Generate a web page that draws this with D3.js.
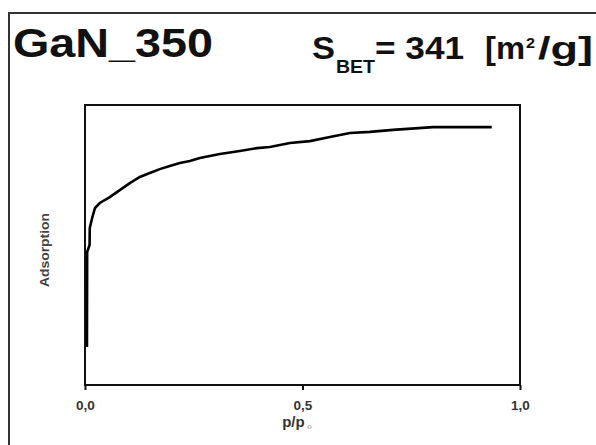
<!DOCTYPE html>
<html>
<head>
<meta charset="utf-8">
<script src="https://cdn.jsdelivr.net/npm/d3@7"></script>
<style>
  body { margin: 0; background: #fff; }
  svg { display: block; font-family: "Liberation Sans", Arial, sans-serif; }
</style>
</head>
<body>
<svg width="596" height="445"></svg>
<script>
// isotherm (adsorption in arbitrary units, 0..100 over the box)
const pressure = [0.0045, 0.0047, 0.005, 0.0105, 0.011, 0.017, 0.023, 0.034, 0.057, 0.08, 0.103, 0.126, 0.149, 0.172, 0.195, 0.218, 0.241, 0.264, 0.31, 0.356, 0.395, 0.425, 0.471, 0.517, 0.563, 0.609, 0.655, 0.708, 0.8, 0.935]
const adsorbed = [13.6, 30, 47.5, 50, 56.1, 60.0, 63.2, 65.0, 67.1, 69.6, 72.1, 74.3, 75.7, 77.1, 78.2, 79.3, 80.0, 81.1, 82.5, 83.6, 84.6, 85.0, 86.4, 87.1, 88.6, 90.0, 90.4, 91.1, 92.1, 92.1]
const xTicks = [0, 0.5, 1.0]

const data = pressure.map((p, i) => ({ p: p, v: adsorbed[i] }))

const svg = d3.select("svg")
const box = { left: 85, top: 105, right: 520, bottom: 385 }

// outer frame (only left and top edges are in the picture)
svg.append("path")
  .attr("d", "M9,445V13H596")
  .attr("fill", "none")
  .attr("stroke", "#333")
  .attr("stroke-width", 2)

const x = d3.scaleLinear().domain([0, 1]).range([box.left, box.right])
const y = d3.scaleLinear().domain([0, 100]).range([box.bottom, box.top])

svg.append("rect")
  .attr("x", box.left)
  .attr("y", box.top)
  .attr("width", box.right - box.left)
  .attr("height", box.bottom - box.top)
  .attr("fill", "none")
  .attr("stroke", "#111")
  .attr("stroke-width", 2)

const xAxis = svg.append("g")
  .attr("transform", `translate(0,${box.bottom})`)
  .call(d3.axisBottom(x)
    .tickValues(xTicks)
    .tickSize(5)
    .tickPadding(10)
    .tickFormat((d) => d3.format(".1f")(d).replace(".", ",")))
xAxis.select(".domain").remove()
xAxis.selectAll("line").attr("stroke", "#111").attr("stroke-width", 2)
xAxis.selectAll("text")
  .attr("font-family", "'Liberation Sans', Arial, sans-serif")
  .attr("font-size", 13.5)
  .attr("font-weight", "bold")
  .attr("fill", "#333")

const line = d3.line()
  .x((d) => x(d.p))
  .y((d) => y(d.v))

svg.append("path")
  .datum(data)
  .attr("fill", "none")
  .attr("stroke", "#000")
  .attr("stroke-width", 2.6)
  .attr("d", line)

// axis titles
const xl = svg.append("text")
  .attr("x", 297)
  .attr("y", 427)
  .attr("text-anchor", "middle")
  .attr("font-size", 15)
  .attr("font-weight", "bold")
  .attr("fill", "#333")
xl.append("tspan").text("p/p")
xl.append("tspan").attr("font-size", 8).attr("dy", 2).attr("fill", "#bbb").text(" o")

svg.append("text")
  .attr("transform", "translate(49,250) rotate(-90)")
  .attr("text-anchor", "middle")
  .attr("font-size", 12)
  .attr("font-weight", "bold")
  .attr("fill", "#444")
  .attr("textLength", 74)
  .attr("lengthAdjust", "spacingAndGlyphs")
  .text("Adsorption")

// headings, each piece stretched to the width it has in the picture
const heading = (tx, ty, size, len, str) =>
  svg.append("text")
    .attr("x", tx)
    .attr("y", ty)
    .attr("font-size", size)
    .attr("font-weight", "bold")
    .attr("fill", "#111")
    .attr("textLength", len)
    .attr("lengthAdjust", "spacingAndGlyphs")
    .text(str)

heading(13, 57, 40, 200, "GaN_350")
heading(312, 59, 32, 23, "S")
heading(336, 73, 18, 39, "BET")
heading(375, 59, 32, 89, "= 341")
heading(485, 59, 32, 40, "[m")
heading(526, 48, 15, 9, "2")
heading(538, 59, 32, 55, "/g]")
</script>
</body>
</html>
